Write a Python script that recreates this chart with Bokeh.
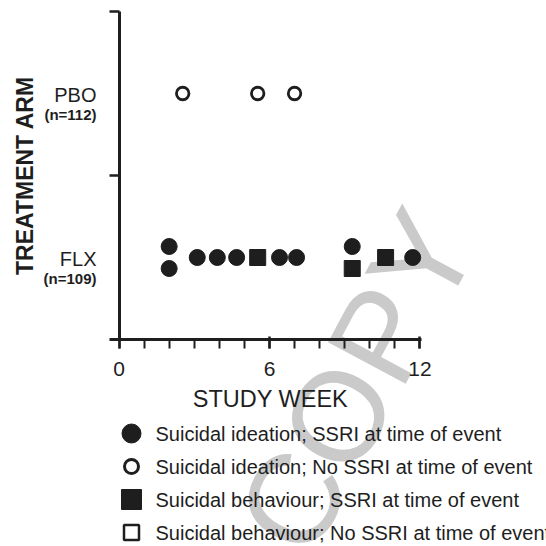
import math
from bokeh.plotting import figure
from bokeh.models import Range1d, FixedTicker, Label, LinearAxis, ColumnDataSource
from bokeh.core.properties import value
from bokeh.embed import file_html
from bokeh.resources import INLINE

FONT = "Liberation Sans"
BLACK = "#1e1e1e"
WM = "#cacaca"

# ---------------- data ----------------
arms = ["FLX", "PBO"]
arm_counts = ["(n=109)", "(n=112)"]

# Suicidal ideation; SSRI at time of event (filled circles)
ideation_ssri_week = [2.0, 2.0, 3.12, 3.92, 4.69, 6.40, 7.08, 9.30, 11.71]
ideation_ssri_arm = ["FLX", "FLX", "FLX", "FLX", "FLX", "FLX", "FLX", "FLX", "FLX"]
ideation_ssri_stack = [1, -1, 0, 0, 0, 0, 0, 1, 0]

# Suicidal ideation; No SSRI at time of event (open circles)
ideation_nossri_week = [2.54, 5.53, 7.0]
ideation_nossri_arm = ["PBO", "PBO", "PBO"]
ideation_nossri_stack = [0, 0, 0]

# Suicidal behaviour; SSRI at time of event (filled squares)
behaviour_ssri_week = [5.53, 9.30, 10.63]
behaviour_ssri_arm = ["FLX", "FLX", "FLX"]
behaviour_ssri_stack = [0, -1, 0]

# Suicidal behaviour; No SSRI at time of event (open squares) - none observed
behaviour_nossri_week = []
behaviour_nossri_arm = []
behaviour_nossri_stack = []

week_ticks = [0, 6, 12]
week_minor_ticks = list(range(0, 13))
week_tick_labels = ["0", "6", "12"]
arm_boundaries = [1, 2]

x_title = "STUDY WEEK"
y_title = "TREATMENT ARM"
watermark = "COPY"

legend_labels = [
    "Suicidal ideation; SSRI at time of event",
    "Suicidal ideation; No SSRI at time of event",
    "Suicidal behaviour; SSRI at time of event",
    "Suicidal behaviour; No SSRI at time of event",
]

# ---------------- layout helpers ----------------
arm_center = {a: i + 0.5 for i, a in enumerate(arms)}
PXX = 1 / 25.08     # data units per pixel, x
PXY = 1 / 164.0     # data units per pixel, y
STACK = 11 * PXY
X0, X1 = -0.38, 12.06   # extent of the week axis line
Y0, Y1 = 0, 2           # extent of the arm axis line
W = H = 546


def ys(arm_list, stack_list):
    return [arm_center[a] + s * STACK for a, s in zip(arm_list, stack_list)]


# whole canvas is the frame; axes are placed at fixed data locations
p = figure(width=W, height=H,
           x_range=Range1d(-118.5 * PXX, (W - 118.5) * PXX),
           y_range=Range1d(-(H - 339) * PXY, 339 * PXY),
           x_axis_type=None, y_axis_type=None,
           output_backend="svg", toolbar_location=None, min_border=0)
p.outline_line_color = None
p.grid.visible = False
p.background_fill_color = "white"

xa = LinearAxis(fixed_location=0, bounds=(X0, X1))
xa.ticker = FixedTicker(ticks=week_ticks, minor_ticks=week_minor_ticks)
xa.major_label_overrides = {t: l for t, l in zip(week_ticks, week_tick_labels)}
xa.axis_line_width = 3
xa.axis_line_color = BLACK
xa.major_tick_line_width = 2.5
xa.major_tick_line_color = BLACK
xa.major_tick_in = 3
xa.major_tick_out = 9
xa.minor_tick_line_width = 2
xa.minor_tick_line_color = BLACK
xa.minor_tick_in = 0
xa.minor_tick_out = 9
xa.major_label_text_font = FONT
xa.major_label_text_font_size = "21px"
xa.major_label_text_color = BLACK
xa.major_label_standoff = 13
p.add_layout(xa, "below")

ya = LinearAxis(fixed_location=0, bounds=(Y0, Y1))
ya.ticker = FixedTicker(ticks=arm_boundaries, minor_ticks=[])
ya.axis_line_width = 3
ya.axis_line_color = BLACK
ya.major_tick_in = 0
ya.major_tick_out = 10
ya.major_tick_line_width = 2.5
ya.major_tick_line_color = BLACK
ya.minor_tick_line_color = None
ya.major_label_overrides = {t: "" for t in arm_boundaries}
ya.major_label_text_font_size = "1px"
p.add_layout(ya, "left")

# watermark (under the marks)
p.add_layout(Label(x=237.5 * PXX, y=-42 * PXY, text=watermark, angle=1.08,
                   text_align="center", text_baseline="middle",
                   text_font=FONT, text_font_size="128px", text_color=WM,
                   level="underlay"))

# arm labels
for a, n in zip(arms, arm_counts):
    p.add_layout(Label(x=-22.5 * PXX, y=arm_center[a] - 1 * PXY, text=a,
                       text_align="right", text_baseline="middle",
                       text_font=FONT, text_font_size="20px", text_color=BLACK))
    p.add_layout(Label(x=-22.5 * PXX, y=arm_center[a] - 21 * PXY, text=n,
                       text_align="right", text_baseline="middle",
                       text_font=FONT, text_font_size="15px", text_font_style="bold",
                       text_color=BLACK))

# axis titles
p.add_layout(Label(x=-94 * PXX, y=(Y0 + Y1) / 2, text=y_title, angle=math.pi / 2,
                   text_align="center", text_baseline="middle",
                   text_font=FONT, text_font_size="23px", text_font_style="bold",
                   text_color=BLACK))
p.add_layout(Label(x=(week_ticks[0] + week_ticks[-1]) / 2 + 1 * PXX, y=-59 * PXY, text=x_title,
                   text_align="center", text_baseline="middle",
                   text_font=FONT, text_font_size="23.5px", text_color=BLACK))

# data marks
p.scatter(ideation_ssri_week, ys(ideation_ssri_arm, ideation_ssri_stack),
          marker="circle", size=16, fill_color=BLACK, line_color=BLACK)
p.scatter(ideation_nossri_week, ys(ideation_nossri_arm, ideation_nossri_stack),
          marker="circle", size=12.5, fill_color="white", line_color=BLACK, line_width=2.8)
p.scatter(behaviour_ssri_week, ys(behaviour_ssri_arm, behaviour_ssri_stack),
          marker="square", size=16, fill_color=BLACK, line_color=BLACK)
p.scatter(behaviour_nossri_week, ys(behaviour_nossri_arm, behaviour_nossri_stack),
          marker="square", size=14, fill_color="white", line_color=BLACK, line_width=2.5)

# ---------------- legend ----------------
ROW = 33 * PXY
first_row = -94 * PXY
n_rows = len(legend_labels)
leg_src = ColumnDataSource(dict(
    x=[12.5 * PXX] * n_rows,
    y=[first_row - i * ROW for i in range(n_rows)],
    marker=["circle", "circle", "square", "square"],
    size=[19, 14, 20, 15],
    fill=[BLACK, "white", BLACK, "white"],
    lw=[1, 3, 1, 2.5],
    label=legend_labels,
))
p.scatter(x="x", y="y", marker="marker", size="size", fill_color="fill",
          line_color=BLACK, line_width="lw", source=leg_src)
p.text(x="x", y="y", text="label", x_offset=24, source=leg_src,
       text_baseline="middle", text_align="left",
       text_font=value(FONT), text_font_size=value("20px"), text_color=BLACK)

open("out.html", "w").write(file_html(p, INLINE))
